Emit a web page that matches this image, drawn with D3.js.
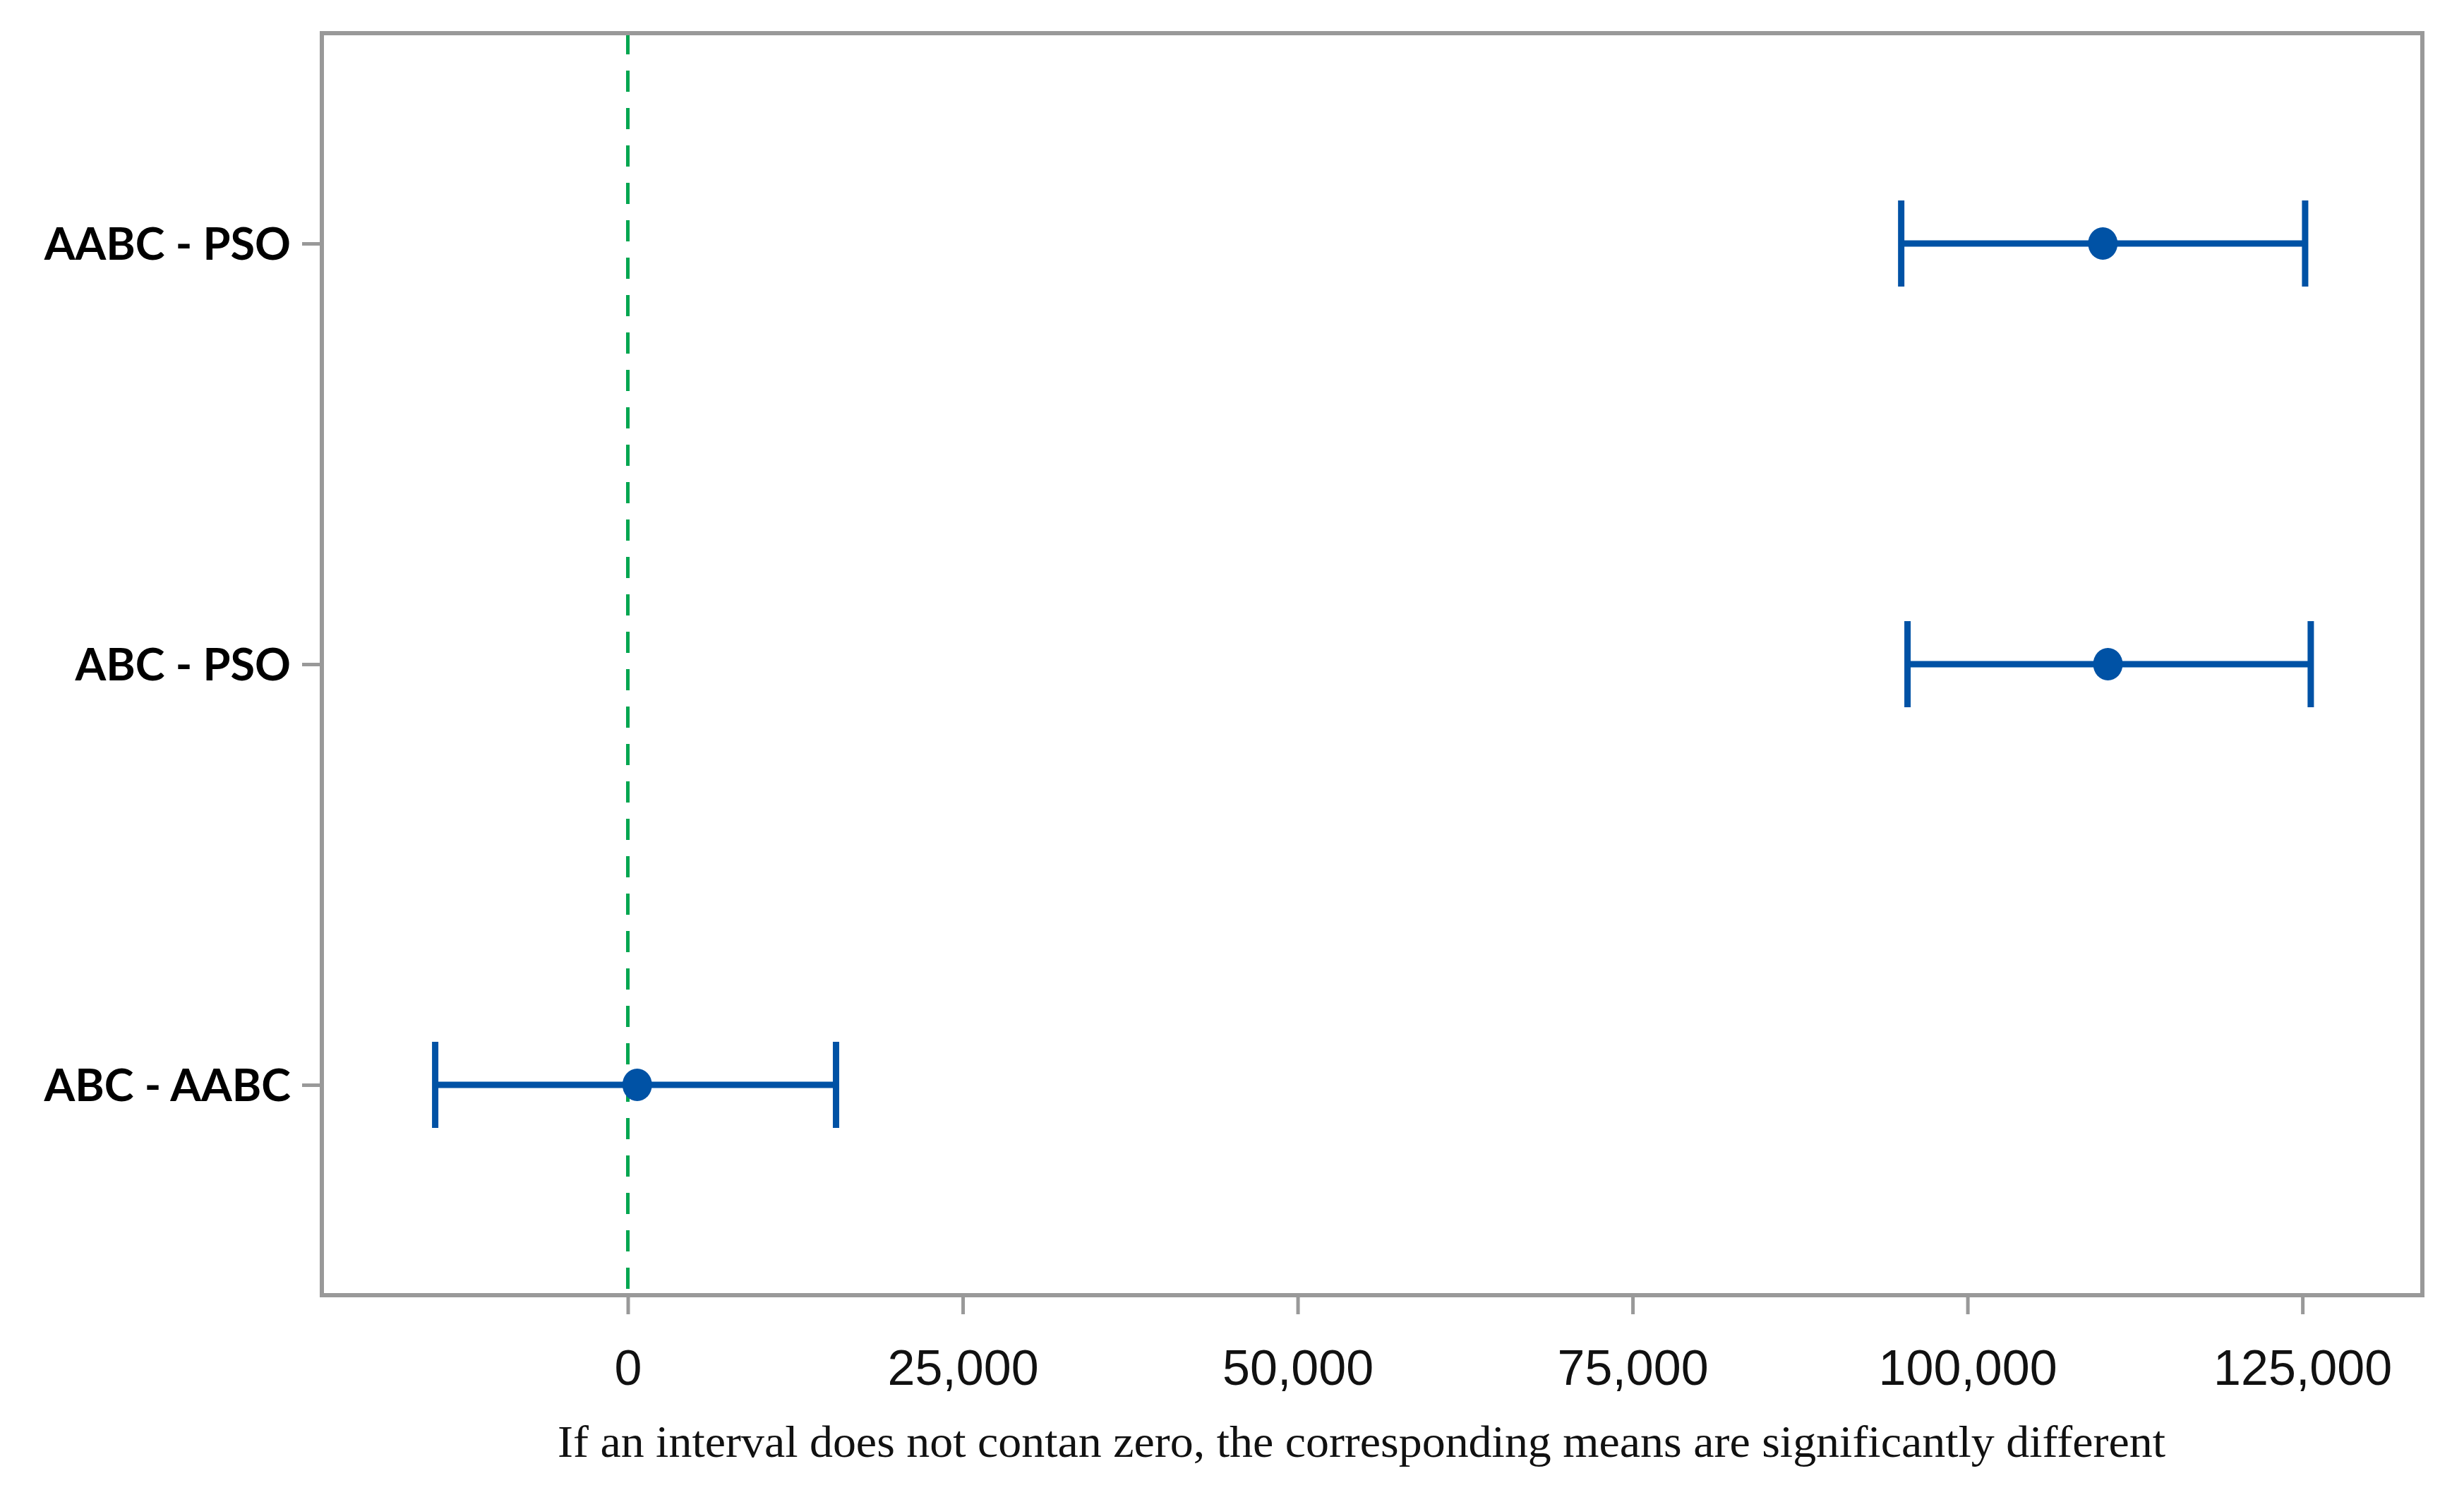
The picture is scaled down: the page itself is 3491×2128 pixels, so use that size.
<!DOCTYPE html>
<html>
<head>
<meta charset="utf-8">
<script src="https://cdn.jsdelivr.net/npm/d3@7"></script>
<style>
  html, body { margin: 0; padding: 0; background: #ffffff; }
  svg { display: block; }
</style>
</head>
<body>
<script>
// ---- data ----
const categories = ["AABC - PSO", "ABC - PSO", "ABC - AABC"];
const centers = [110100, 110480, 700];
const lowers  = [95050, 95520, -14380];
const uppers  = [125200, 125620, 15540];
const xTicks  = [0, 25000, 50000, 75000, 100000, 125000];
const refValue = 0;
const footnote = "If an interval does not contan zero, the corresponding means are significantly different";

// ---- layout ----
const W = 3491, H = 2128;
const frame = { left: 456, top: 47, right: 3432, bottom: 1835 };

const svg = d3.select("body").append("svg")
  .attr("width", W).attr("height", H);

const x = d3.scaleLinear()
  .domain([-22840, 133950])
  .range([frame.left, frame.right]);

const y = d3.scalePoint()
  .domain(categories)
  .range([frame.top, frame.bottom])
  .padding(0.5);

const frameColor = "#999999";
const blue = "#0052a5";
const green = "#00a650";

// reference line at zero
svg.append("line")
  .attr("x1", x(refValue)).attr("x2", x(refValue))
  .attr("y1", frame.top).attr("y2", frame.bottom)
  .attr("stroke", green).attr("stroke-width", 5)
  .attr("stroke-dasharray", "30,23");

// frame
svg.append("rect")
  .attr("x", frame.left).attr("y", frame.top)
  .attr("width", frame.right - frame.left)
  .attr("height", frame.bottom - frame.top)
  .attr("fill", "none")
  .attr("stroke", frameColor).attr("stroke-width", 6);

// x axis
const xAxis = d3.axisBottom(x)
  .tickValues(xTicks)
  .tickSize(27)
  .tickPadding(50)
  .tickFormat(d3.format(",d"));
const gx = svg.append("g")
  .attr("transform", `translate(0,${frame.bottom})`)
  .call(xAxis);
gx.select(".domain").remove();
gx.selectAll(".tick line").attr("stroke", frameColor).attr("stroke-width", 5);
gx.selectAll(".tick text")
  .attr("fill", "#111")
  .style("font-family", "'Liberation Sans', Arial, sans-serif")
  .style("font-size", "70px");

// y axis
const yAxis = d3.axisLeft(y).tickSize(28).tickPadding(16);
const gy = svg.append("g")
  .attr("transform", `translate(${frame.left},0)`)
  .call(yAxis);
gy.select(".domain").remove();
gy.selectAll(".tick line").attr("stroke", frameColor).attr("stroke-width", 5);
gy.selectAll(".tick text")
  .attr("fill", "#000")
  .attr("dy", "0.36em")
  .style("font-family", "Lato, 'Open Sans', sans-serif")
  .style("font-weight", "700")
  .style("font-size", "63px");

// intervals
const rows = categories.map((c, i) => ({ c, mid: centers[i], lo: lowers[i], hi: uppers[i] }));
const capH = 61;
const g = svg.append("g");
g.selectAll("line.bar").data(rows).join("line")
  .attr("class", "bar")
  .attr("x1", d => x(d.lo)).attr("x2", d => x(d.hi))
  .attr("y1", d => y(d.c)).attr("y2", d => y(d.c))
  .attr("stroke", blue).attr("stroke-width", 9);
g.selectAll("line.capL").data(rows).join("line")
  .attr("class", "capL")
  .attr("x1", d => x(d.lo)).attr("x2", d => x(d.lo))
  .attr("y1", d => y(d.c) - capH).attr("y2", d => y(d.c) + capH)
  .attr("stroke", blue).attr("stroke-width", 9);
g.selectAll("line.capR").data(rows).join("line")
  .attr("class", "capR")
  .attr("x1", d => x(d.hi)).attr("x2", d => x(d.hi))
  .attr("y1", d => y(d.c) - capH).attr("y2", d => y(d.c) + capH)
  .attr("stroke", blue).attr("stroke-width", 9);
g.selectAll("ellipse.pt").data(rows).join("ellipse")
  .attr("class", "pt")
  .attr("cx", d => x(d.mid)).attr("cy", d => y(d.c))
  .attr("rx", 21).attr("ry", 23)
  .attr("fill", blue);

// footnote
svg.append("text")
  .attr("x", (frame.left + frame.right) / 2 - 15)
  .attr("y", 2064)
  .attr("text-anchor", "middle")
  .attr("textLength", 2278)
  .attr("lengthAdjust", "spacingAndGlyphs")
  .attr("fill", "#111")
  .style("font-family", "'Liberation Serif', 'DejaVu Serif', serif")
  .style("font-size", "64px")
  .text(footnote);
</script>
</body>
</html>
